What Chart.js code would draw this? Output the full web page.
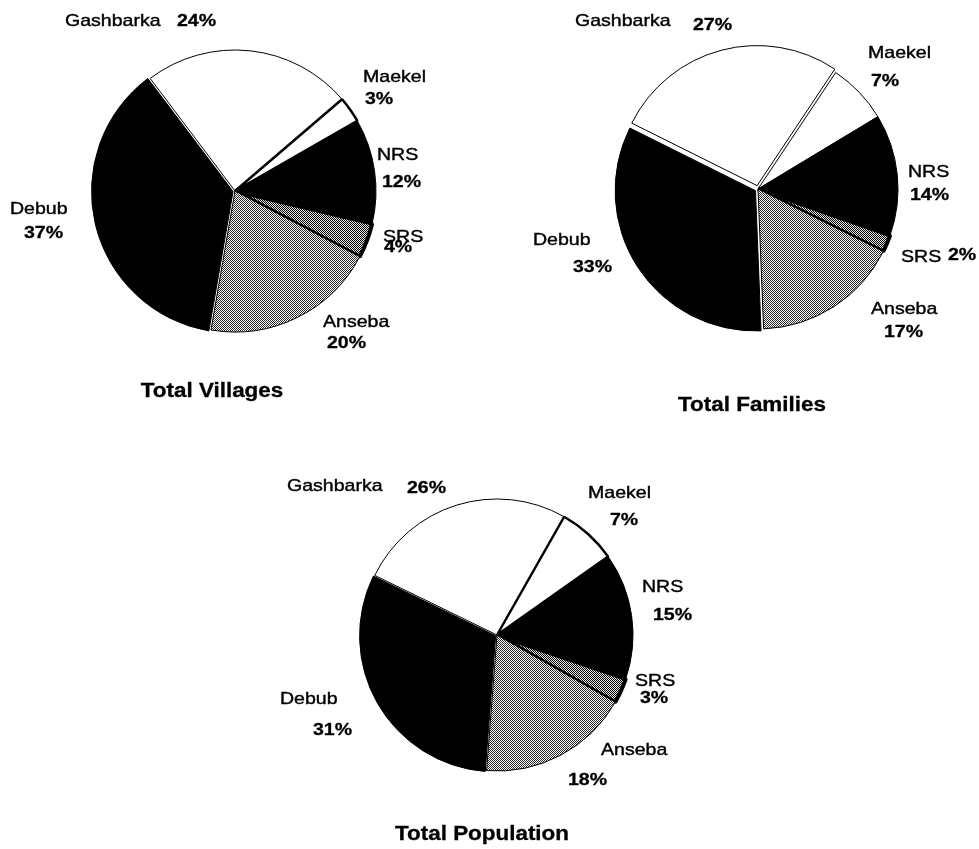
<!DOCTYPE html>
<html>
<head>
<meta charset="utf-8">
<script src="https://cdn.jsdelivr.net/npm/chart.js@4.4.1/dist/chart.umd.min.js"></script>
<style>
  html, body { margin: 0; padding: 0; background: #fff; }
  #wrap { position: relative; width: 979px; height: 849px; overflow: hidden; }
  #wrap canvas { position: absolute; left: 0; top: 0; }
</style>
</head>
<body>
<div id="wrap">
  <canvas id="villages" width="979" height="849"></canvas>
  <canvas id="families" width="979" height="849"></canvas>
  <canvas id="population" width="979" height="849"></canvas>
</div>
<script>
// Share of each region, in percent
const regions = ['Gashbarka', 'Maekel', 'NRS', 'SRS', 'Anseba', 'Debub'];
const villagesPct = [24, 3, 12, 4, 20, 37];
const familiesPct = [27, 7, 14, 2, 17, 33];
const populationPct = [26, 7, 15, 3, 18, 31];
const chartTitles = ['Total Villages', 'Total Families', 'Total Population'];

const FONT = '"Liberation Sans", Arial, Helvetica, sans-serif';
const STRETCH = 1.15; // the old print type is set wide

// 1px dither, like the printed grey fills
function checker(dark, light){
  const c = document.createElement('canvas');
  c.width = 2; c.height = 2;
  const g = c.getContext('2d');
  g.fillStyle = light; g.fillRect(0, 0, 2, 2);
  g.fillStyle = dark; g.fillRect(0, 0, 1, 1); g.fillRect(1, 1, 1, 1);
  return g.createPattern(c, 'repeat');
}
const grey = checker('#2a2a2a', '#ffffff');
const greyDark = checker('#000000', '#e8e8e8');
const fills = ['#ffffff', '#ffffff', '#000000', greyDark, grey, '#000000'];

// where each pie sits and where its labels go: [nameX, nameY, pctX, pctY]
// (Chart.js moves an offset slice by a quarter of its offset value)
const pies = [
  { id: 'villages', data: villagesPct, cx: 235, cy: 191, r: 141, rotation: -37,
    offset: [0, 0, 0, 0, 0, 8], border: [1, 2.5, 1, 4, 1, 1],
    title: [212, 392],
    labels: [[65, 21, 177, 21], [363, 77, 365, 99], [377, 155, 382, 182],
             [383, 237, 384, 247], [323, 322, 327, 343], [10, 209, 24, 233]] },
  { id: 'families', data: familiesPct, cx: 758, cy: 189, r: 140, rotation: -63.5,
    offset: [14, 0, 0, 0, 0, 12], border: [1, 1, 1, 4, 1, 1],
    title: [752, 406],
    labels: [[575, 21, 693, 25], [868, 53, 871, 81], [908, 172, 910, 195],
             [901, 257, 948, 255], [871, 309, 884, 332], [533, 240, 573, 267]] },
  { id: 'population', data: populationPct, cx: 497, cy: 635, r: 136, rotation: -64,
    offset: [0, 0, 0, 0, 0, 6], border: [1, 2.5, 1, 4, 1, 1],
    title: [482, 835],
    labels: [[287, 486, 407, 488], [588, 493, 610, 520], [642, 587, 653, 615],
             [635, 681, 640, 698], [601, 750, 568, 780], [280, 699, 313, 730]] }
];

function wideText(ctx, text, x, y, font, align, weight){
  ctx.save();
  ctx.font = font;
  ctx.textAlign = align;
  ctx.textBaseline = 'middle';
  ctx.fillStyle = '#000';
  ctx.strokeStyle = '#000';
  ctx.lineWidth = weight;
  ctx.translate(x, y);
  ctx.scale(STRETCH, 1);
  ctx.fillText(text, 0, 0);
  if (weight) ctx.strokeText(text, 0, 0);
  ctx.restore();
}

// category names, percentages and the caption under each pie
const pieLabels = {
  id: 'pieLabels',
  afterDraw(chart, args, opts){
    const ctx = chart.ctx;
    const vals = chart.data.datasets[0].data;
    opts.labels.forEach((p, i) => {
      wideText(ctx, chart.data.labels[i], p[0], p[1], '17px ' + FONT, 'left', 0.4);
      wideText(ctx, vals[i] + '%', p[2], p[3], 'bold 17px ' + FONT, 'left', 0.3);
    });
    wideText(ctx, opts.title, opts.titlePos[0], opts.titlePos[1], 'bold 19.5px ' + FONT, 'center', 0.3);
  }
};

const HALF = 180;
pies.forEach((p, k) => {
  new Chart(document.getElementById(p.id), {
    type: 'pie',
    data: {
      labels: regions,
      datasets: [{
        data: p.data,
        backgroundColor: fills,
        borderColor: '#000',
        borderWidth: p.border,
        offset: p.offset
      }]
    },
    options: {
      responsive: false,
      animation: false,
      events: [],
      rotation: p.rotation,
      radius: p.r,
      layout: { padding: { left: p.cx - HALF, right: 979 - p.cx - HALF, top: p.cy - HALF, bottom: 849 - p.cy - HALF } },
      plugins: {
        legend: { display: false },
        tooltip: { enabled: false },
        title: { display: false },
        pieLabels: { labels: p.labels, title: chartTitles[k], titlePos: p.title }
      }
    },
    plugins: [pieLabels]
  });
});
</script>
</body>
</html>
